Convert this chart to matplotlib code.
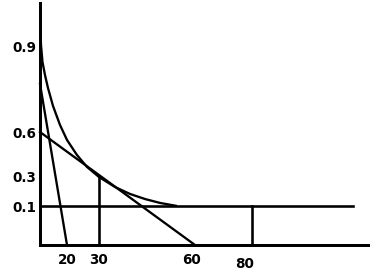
import numpy as np
import matplotlib.pyplot as plt

# the hand-drawn axes are not to scale: map each labelled value to its pixel
X_KNOTS = [-100, 0, 20, 30, 60, 80, 300]
X_PIX = [-95, 40, 67, 99, 195, 252, 879]
Y_KNOTS = [-1, 0, 0.1, 0.3, 0.6, 0.9, 3]
Y_PIX = [-360, 30, 69, 98, 143, 228, 823]

# data
curve_x = [0.22, 0.74, 1.85, 3.7, 5.93, 9.63, 14.8, 20, 23.1, 26.25, 30,
           35, 39.7, 44.4, 49.1, 54.4]
curve_y = [0.971, 0.907, 0.847, 0.801, 0.755, 0.692, 0.625, 0.547, 0.447,
           0.367, 0.3, 0.231, 0.183, 0.148, 0.121, 0.1]
steep_x = [0, 20]
steep_y = [0.77, 0]
tangent_x = [0, 60]
tangent_y = [0.6, 0]
floor_level = 0.1
floor_end = 115.4
tangent_point = (30, 0.3)
floor_mark = (80, 0.1)
x_axis_end = 120.7
y_axis_top = 1.055

x_ticks = [20, 30, 60, 80]
x_labels = ['20', '30', '60', '80']
y_ticks = [0.1, 0.3, 0.6, 0.9]
y_labels = ['0.1', '0.3', '0.6', '0.9']
x_label_offsets = [(0, -15), (-1, -15), (-3.5, -15.5), (-7, -18.5)]


def fx(v):
    return np.interp(v, X_KNOTS, X_PIX)


def fx_inv(p):
    return np.interp(p, X_PIX, X_KNOTS)


def fy(v):
    return np.interp(v, Y_KNOTS, Y_PIX)


def fy_inv(p):
    return np.interp(p, Y_PIX, Y_KNOTS)


W, H = 376, 275
fig = plt.figure(figsize=(W / 72, H / 72), dpi=72)
ax = fig.add_axes([0, 0, 1, 1])
ax.set_xscale('function', functions=(fx, fx_inv))
ax.set_yscale('function', functions=(fy, fy_inv))
ax.set_xlim(fx_inv(0), fx_inv(W))
ax.set_ylim(fy_inv(0), fy_inv(H))

lw = 2.3
ax.plot(curve_x, curve_y, color='black', lw=lw, solid_capstyle='butt')
ax.plot(steep_x, steep_y, color='black', lw=lw)
ax.plot(tangent_x, tangent_y, color='black', lw=lw)
ax.plot([0, floor_end], [floor_level, floor_level], color='black', lw=2.6)
ax.plot([tangent_point[0]] * 2, [0, tangent_point[1]], color='black', lw=2.6)
ax.plot([floor_mark[0]] * 2, [0, floor_mark[1]], color='black', lw=2.6)

for side in ['top', 'right']:
    ax.spines[side].set_visible(False)
ax.spines['left'].set_position(('data', 0))
ax.spines['bottom'].set_position(('data', 0))
ax.spines['left'].set_bounds(0, y_axis_top)
ax.spines['bottom'].set_bounds(0, x_axis_end)
for side in ['left', 'bottom']:
    ax.spines[side].set_linewidth(3)

ax.set_yticks(y_ticks, y_labels, fontweight='bold', fontsize=13.5)
ax.tick_params(axis='y', length=0, pad=4)
ax.set_xticks([])
for v, lbl, off in zip(x_ticks, x_labels, x_label_offsets):
    ax.annotate(lbl, xy=(v, 0), xytext=off, textcoords='offset points',
                ha='center', va='center', fontweight='bold', fontsize=13.5)

fig.savefig('out.png', dpi=72)
